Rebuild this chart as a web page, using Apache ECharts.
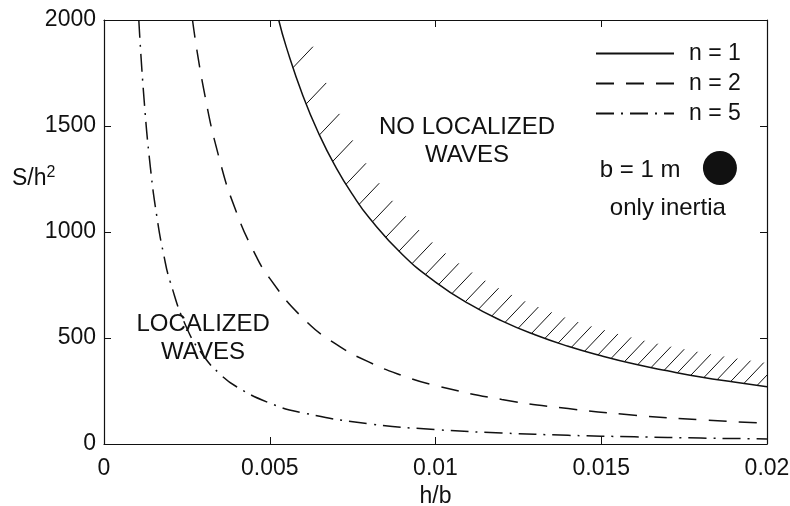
<!DOCTYPE html>
<html>
<head>
<meta charset="utf-8">
<script src="https://cdn.jsdelivr.net/npm/echarts@6/dist/echarts.min.js"></script>
<style>
  html, body { margin: 0; padding: 0; background: #fff; }
  #chart { width: 790px; height: 506px; }
</style>
</head>
<body>
<div id="chart"></div>
<script>
// curves: [h/b, S/h^2]
var seriesNames = ['n = 1', 'n = 2', 'n = 5'];
var n1Data = [[0.00527, 2000], [0.0055, 1872], [0.006, 1643], [0.0065, 1457], [0.007, 1304], [0.0075, 1176],
  [0.008, 1067], [0.009, 894], [0.010, 764], [0.011, 662], [0.012, 581], [0.013, 515], [0.014, 461],
  [0.015, 416], [0.016, 377], [0.017, 345], [0.018, 316], [0.019, 292], [0.020, 270]];
var n2Data = [[0.00267, 2000], [0.003, 1680], [0.0035, 1333], [0.004, 1091], [0.0045, 914], [0.005, 781],
  [0.006, 594], [0.007, 471], [0.008, 386], [0.009, 323], [0.010, 276], [0.012, 210], [0.014, 167],
  [0.016, 136], [0.018, 114], [0.020, 98]];
var n5Data = [[0.00105, 2000], [0.0012, 1643], [0.0014, 1304], [0.0016, 1067], [0.0018, 894], [0.002, 764],
  [0.0025, 546], [0.003, 416], [0.0035, 330], [0.004, 270], [0.005, 193], [0.006, 147], [0.008, 95],
  [0.010, 68], [0.012, 52], [0.014, 41], [0.016, 34], [0.018, 28], [0.020, 24]];

// hatch marks along the n = 1 boundary
var hatchX = [0.0057, 0.0061, 0.0065, 0.0069, 0.0073, 0.0077, 0.0081, 0.0085, 0.0089, 0.0093, 0.0097,
  0.0101, 0.0105, 0.0109, 0.0113, 0.0117, 0.0121, 0.0125, 0.0129, 0.0133, 0.0137, 0.0141, 0.0145,
  0.0149, 0.0153, 0.0157, 0.0161, 0.0165, 0.0169, 0.0173, 0.0177, 0.0181, 0.0185, 0.0189, 0.0193,
  0.0197, 0.0201];
var hatchY = [1775, 1604, 1458, 1333, 1225, 1131, 1048, 975, 910, 852, 800, 753, 710, 671, 636, 604,
  574, 547, 522, 498, 476, 456, 438, 420, 404, 388, 374, 360, 348, 336, 324, 314, 304, 294, 285, 276, 268];

// annotations: [h/b, S/h^2, text]
var regionLabels = [[0.01095, 1427, 'NO LOCALIZED\nWAVES'], [0.00299, 498, 'LOCALIZED\nWAVES'],
  [0.01617, 1292, 'b = 1 m'], [0.01701, 1113, 'only inertia']];
var markerPoint = [[0.01858, 1302]];

var xMin = 0, xMax = 0.02, xStep = 0.005;
var yMin = 0, yMax = 2000, yStep = 500;

var ink = '#111';
var font = 'Liberation Sans, Arial, sans-serif';

var chart = echarts.init(document.getElementById('chart'), null, { renderer: 'canvas' });

var hatchData = hatchX.map(function(x, i) { return [x, hatchY[i]]; });

function lineSeries(name, data, type) {
  return {
    name: name,
    type: 'line',
    data: data,
    symbol: 'none',
    showSymbol: false,
    smooth: 0.5,
    clip: true,
    lineStyle: { color: ink, width: 1.5, type: type },
    itemStyle: { color: ink },
    z: 3
  };
}

var axisCommon = {
  axisLine: { show: true, onZero: false, lineStyle: { color: ink, width: 1.2 } },
  axisTick: { show: true, inside: true, length: 7, lineStyle: { color: ink, width: 1 } },
  splitLine: { show: false }
};

chart.setOption({
  animation: false,
  backgroundColor: '#fff',
  textStyle: { fontFamily: font },
  grid: { left: 104, right: 23, top: 20, bottom: 62, containLabel: false, outerBoundsMode: 'none' },
  legend: {
    data: seriesNames,
    orient: 'vertical',
    left: 595,
    top: 42,
    padding: 0,
    itemWidth: 78,
    itemHeight: 14,
    itemGap: 7,
    itemStyle: { opacity: 0 },
    textStyle: { color: ink, fontSize: 23, fontFamily: font, padding: [0, 0, 0, 10] }
  },
  xAxis: [
    Object.assign({
      type: 'value', min: xMin, max: xMax, interval: xStep, position: 'bottom',
      name: 'h/b', nameLocation: 'middle', nameGap: 38,
      nameTextStyle: { color: ink, fontSize: 23, fontFamily: font },
      axisLabel: { color: ink, fontSize: 23, margin: 13, fontFamily: font }
    }, axisCommon),
    Object.assign({
      type: 'value', min: xMin, max: xMax, interval: xStep, position: 'top',
      axisLabel: { show: false }
    }, axisCommon)
  ],
  yAxis: [
    Object.assign({
      type: 'value', min: yMin, max: yMax, interval: yStep, position: 'left',
      axisLabel: { color: ink, fontSize: 23, margin: 8, fontFamily: font,
        formatter: function(v) { return String(v); } }
    }, axisCommon),
    Object.assign({
      type: 'value', min: yMin, max: yMax, interval: yStep, position: 'right',
      axisLabel: { show: false }
    }, axisCommon)
  ],
  graphic: [{
    type: 'text',
    left: 12,
    top: 165,
    style: {
      text: '{a|S/h}{b|2}',
      rich: {
        a: { fontSize: 23, fill: ink, fontFamily: font },
        b: { fontSize: 16, fill: ink, fontFamily: font, padding: [0, 0, 12, 0] }
      }
    }
  }],
  series: [
    lineSeries(seriesNames[0], n1Data, 'solid'),
    lineSeries(seriesNames[1], n2Data, [18, 12]),
    lineSeries(seriesNames[2], n5Data, [18, 7, 2, 7]),
    {
      name: 'hatch',
      type: 'custom',
      clip: true,
      data: hatchData,
      encode: { x: 0, y: 1 },
      renderItem: function(params, api) {
        var p = api.coord([api.value(0), api.value(1)]);
        return {
          type: 'line',
          shape: { x1: p[0], y1: p[1], x2: p[0] + 20, y2: p[1] - 21 },
          style: { stroke: ink, lineWidth: 1 }
        };
      },
      z: 2
    },
    {
      name: 'marker',
      type: 'scatter',
      data: markerPoint,
      symbol: 'circle',
      symbolSize: 34,
      itemStyle: { color: '#111', opacity: 1 },
      z: 4
    },
    {
      name: 'labels',
      type: 'scatter',
      data: regionLabels,
      symbolSize: 0,
      itemStyle: { opacity: 1 },
      label: {
        show: true,
        position: 'inside',
        formatter: function(p) { return p.data[2]; },
        color: ink,
        opacity: 1,
        fontSize: 24,
        lineHeight: 28,
        fontFamily: font,
        align: 'center'
      },
      z: 5
    }
  ]
});
</script>
</body>
</html>
